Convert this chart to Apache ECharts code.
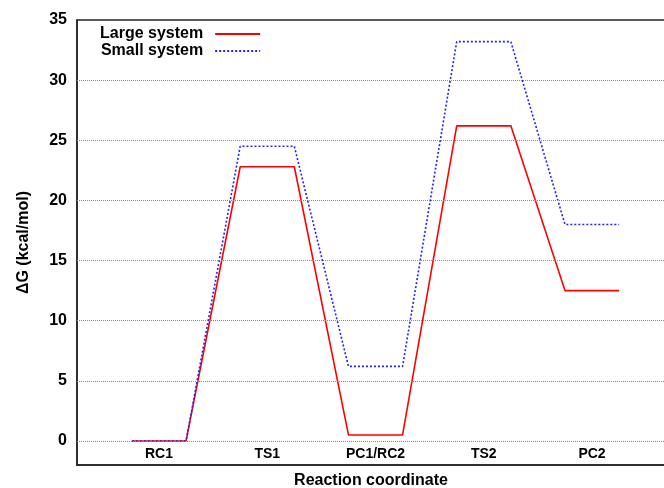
<!DOCTYPE html>
<html><head><meta charset="utf-8">
<script src="https://cdn.jsdelivr.net/npm/echarts@6/dist/echarts.min.js"></script>
<style>html,body{margin:0;padding:0;background:#fff}#c{width:664px;height:488px}</style>
</head><body><div id="c"></div>
<script>
const categories = ['RC1', 'TS1', 'PC1/RC2', 'TS2', 'PC2'];
const largeSystem = [0, 22.8, 0.5, 26.2, 12.5];
const smallSystem = [0, 24.5, 6.2, 33.2, 18.0];
const yTickValues = [0, 5, 10, 15, 20, 25, 30, 35];
const gridLevels = [0, 5, 10, 15, 20, 25, 30];

const FONT = "'Liberation Sans', Arial, Helvetica, sans-serif";

function profile(vals) {
  const pts = [];
  vals.forEach((v, i) => { pts.push([i - 0.25, v]); pts.push([i + 0.25, v]); });
  return pts;
}

const chart = echarts.init(document.getElementById('c'), null, {renderer: 'canvas'});
chart.setOption({
  animation: false,
  backgroundColor: '#fff',
  grid: {left: 77, top: 20, right: -1, bottom: 23, show: true, borderColor: '#222', borderWidth: 1.5,
         containLabel: false, outerBoundsMode: 'none'},
  legend: {
    left: 100, top: 26, orient: 'vertical', align: 'right', padding: 0,
    itemWidth: 45, itemHeight: 10, itemGap: 1,
    itemStyle: {opacity: 0},
    textStyle: {fontFamily: FONT, fontWeight: 'bold', fontSize: 16, color: '#000', lineHeight: 16, padding: [0, 7, 0, 0]},
    data: ['Large system', 'Small system']
  },
  xAxis: {
    type: 'value', min: -0.7575, max: 4.674,
    name: 'Reaction coordinate', nameLocation: 'middle', nameGap: 8,
    nameTextStyle: {fontFamily: FONT, fontWeight: 'bold', fontSize: 16, color: '#000', verticalAlign: 'top'},
    axisLine: {show: true, onZero: false, lineStyle: {color: '#222', width: 1.5}},
    axisTick: {show: false},
    splitLine: {show: false},
    axisLabel: {
      customValues: categories.map((c, i) => i),
      formatter: v => categories[Math.round(v)] || '',
      inside: true, margin: 4,
      fontFamily: FONT, fontWeight: 'bold', fontSize: 14, color: '#000'
    }
  },
  yAxis: {
    type: 'value', min: -2, max: 35,
    name: 'ΔG (kcal/mol)', nameLocation: 'middle', nameGap: 45,
    nameTextStyle: {fontFamily: FONT, fontWeight: 'bold', fontSize: 16, color: '#000'},
    axisLine: {show: true, onZero: false, lineStyle: {color: '#222', width: 1.5}},
    axisTick: {show: false},
    splitLine: {show: false},
    axisLabel: {
      customValues: yTickValues,
      margin: 10,
      fontFamily: FONT, fontWeight: 'bold', fontSize: 16, color: '#000'
    }
  },
  series: [
    {
      name: 'Large system', type: 'line', data: profile(largeSystem),
      symbol: 'none', color: '#ff0000',
      lineStyle: {color: '#ff0000', width: 1.6},
      markLine: {
        silent: true, symbol: 'none', label: {show: false}, animation: false,
        lineStyle: {color: '#888', type: [1, 1], width: 1},
        data: gridLevels.map(v => ({yAxis: v}))
      },
      z: 3
    },
    {
      name: 'Small system', type: 'line', data: profile(smallSystem),
      symbol: 'none', color: '#2222ff',
      lineStyle: {color: '#2222ff', width: 1.6, type: [2, 2]},
      z: 4
    }
  ]
});
</script>
</body></html>
